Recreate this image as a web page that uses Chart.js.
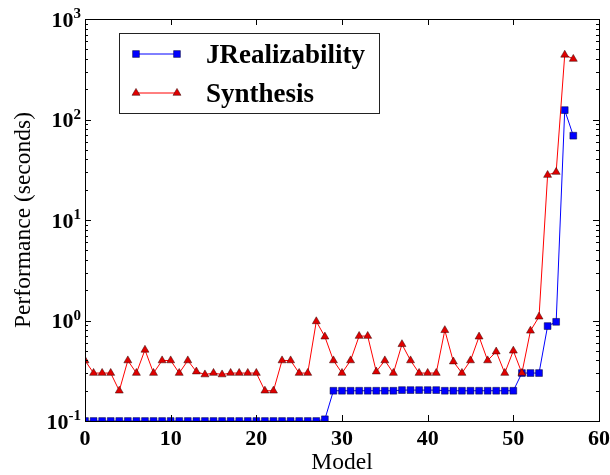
<!DOCTYPE html>
<html>
<head>
<meta charset="utf-8">
<script src="https://cdn.jsdelivr.net/npm/chart.js@4/dist/chart.umd.min.js"></script>
<style>
  html, body { margin: 0; padding: 0; background: #fff; }
  #wrap { width: 610px; height: 475px; }
</style>
</head>
<body>
<div id="wrap"><canvas id="chartCanvas"></canvas></div>
<script>
"use strict";

// runtime per model, seconds
const jrealizability = [
    0.1, 0.1, 0.1, 0.1, 0.1, 0.1, 0.1, 0.1, 0.1, 0.1,
    0.1, 0.1, 0.1, 0.1, 0.1, 0.1, 0.1, 0.1, 0.1, 0.1,
    0.1, 0.1, 0.1, 0.1, 0.1, 0.1, 0.1, 0.1, 0.104, 0.2,
    0.2, 0.2, 0.2, 0.2, 0.2, 0.2, 0.2, 0.203, 0.203, 0.203,
    0.203, 0.203, 0.2, 0.2, 0.2, 0.2, 0.2, 0.2, 0.2, 0.2,
    0.2, 0.3, 0.3, 0.3, 0.88, 0.97, 124, 69
];
const synthesis = [
    0.4, 0.3, 0.3, 0.3, 0.2, 0.4, 0.3, 0.51, 0.3, 0.4,
    0.4, 0.3, 0.4, 0.31, 0.29, 0.3, 0.29, 0.3, 0.3, 0.3,
    0.3, 0.2, 0.2, 0.4, 0.4, 0.3, 0.3, 0.98, 0.69, 0.4,
    0.3, 0.4, 0.7, 0.7, 0.31, 0.4, 0.3, 0.58, 0.4, 0.3,
    0.3, 0.3, 0.8, 0.39, 0.3, 0.4, 0.69, 0.4, 0.49, 0.3,
    0.5, 0.3, 0.79, 1.09, 28, 30, 440, 400
];
const xTicks = [0, 10, 20, 30, 40, 50, 60];
const yDecades = [0.1, 1, 10, 100, 1000];
const yExponents = ['-1', '0', '1', '2', '3'];
const minorSteps = [2, 3, 4, 5, 6, 7, 8, 9];

const SERIF = '"Liberation Serif", "Times New Roman", serif';

function toPoints(arr) {
    return arr.map(function (v, i) { return { x: i, y: v }; });
}

// frame, inward ticks on all four sides and the 10^n labels
const axisDecor = {
    id: 'axisDecor',
    afterDatasetsDraw(chart) {
        const { ctx, chartArea: a, scales: { x, y } } = chart;
        ctx.save();
        ctx.strokeStyle = '#000';
        ctx.lineWidth = 1;
        ctx.beginPath();
        xTicks.forEach(function (v) {
            const px = Math.round(x.getPixelForValue(v)) + 0.5;
            ctx.moveTo(px, a.bottom); ctx.lineTo(px, a.bottom - 6);
            ctx.moveTo(px, a.top); ctx.lineTo(px, a.top + 6);
        });
        yDecades.forEach(function (d, k) {
            const py = Math.round(y.getPixelForValue(d)) + 0.5;
            ctx.moveTo(a.left, py); ctx.lineTo(a.left + 6, py);
            ctx.moveTo(a.right, py); ctx.lineTo(a.right - 6, py);
            if (k < yDecades.length - 1) {
                minorSteps.forEach(function (m) {
                    const my = Math.round(y.getPixelForValue(d * m)) + 0.5;
                    ctx.moveTo(a.left, my); ctx.lineTo(a.left + 3, my);
                    ctx.moveTo(a.right, my); ctx.lineTo(a.right - 3, my);
                });
            }
        });
        ctx.stroke();
        ctx.strokeRect(Math.round(a.left) + 0.5, Math.round(a.top) + 0.5,
            Math.round(a.right - a.left), Math.round(a.bottom - a.top));

        // y labels: "10" plus a raised exponent, right aligned to the axis
        ctx.fillStyle = '#000';
        ctx.textBaseline = 'alphabetic';
        ctx.textAlign = 'right';
        yDecades.forEach(function (d, k) {
            const py = y.getPixelForValue(d);
            const right = a.left - 4;
            ctx.font = 'bold 15px ' + SERIF;
            const ew = ctx.measureText(yExponents[k]).width;
            ctx.fillText(yExponents[k], right, py - 1);
            ctx.font = 'bold 22px ' + SERIF;
            ctx.fillText('10', right - ew, py + 7.5);
        });
        ctx.restore();
    }
};

// boxed legend with a short line and a marker at each end
const lineLegend = {
    id: 'lineLegend',
    afterDraw(chart) {
        const { ctx } = chart;
        const box = { x: 119.5, y: 33.5, w: 260, h: 80 };
        ctx.save();
        ctx.fillStyle = '#fff';
        ctx.strokeStyle = '#222';
        ctx.lineWidth = 1;
        ctx.fillRect(box.x, box.y, box.w, box.h);
        ctx.strokeRect(box.x, box.y, box.w, box.h);
        chart.data.datasets.forEach(function (ds, i) {
            const ly = 54 + i * 39;
            ctx.strokeStyle = ds.borderColor;
            ctx.lineWidth = ds.borderWidth;
            ctx.beginPath();
            ctx.moveTo(136, ly); ctx.lineTo(177, ly);
            ctx.stroke();
            [136, 177].forEach(function (mx) {
                ctx.fillStyle = ds.pointBackgroundColor;
                ctx.strokeStyle = ds.pointBorderColor;
                ctx.lineWidth = ds.pointBorderWidth;
                Chart.helpers.drawPoint(ctx, {
                    pointStyle: ds.pointStyle, radius: ds.pointRadius,
                    rotation: 0, borderWidth: ds.pointBorderWidth
                }, mx, ly);
            });
            ctx.fillStyle = '#000';
            ctx.font = 'bold 27px ' + SERIF;
            ctx.textAlign = 'left';
            ctx.textBaseline = 'alphabetic';
            ctx.fillText(ds.label, 206, ly + 9);
        });
        ctx.restore();
    }
};

const ctx = document.getElementById('chartCanvas');

const data = {
    datasets: [{
        label: 'JRealizability',
        data: toPoints(jrealizability),
        borderColor: '#0000ff',
        borderWidth: 1,
        pointStyle: 'rect',
        pointRadius: 4.8,
        pointBackgroundColor: '#0000ff',
        pointBorderColor: '#000033',
        pointBorderWidth: 0.5,
        clip: 0,
        order: 1
    }, {
        label: 'Synthesis',
        data: toPoints(synthesis),
        borderColor: '#ff0000',
        borderWidth: 1,
        pointStyle: 'triangle',
        pointRadius: 4.6,
        pointBackgroundColor: '#e00000',
        pointBorderColor: '#330000',
        pointBorderWidth: 0.5,
        clip: 0,
        order: 0
    }]
};

const config = {
    type: 'line',
    data: data,
    options: {
        responsive: true,
        maintainAspectRatio: false,
        animation: false,
        layout: { padding: { top: 19, right: 11, left: 0, bottom: 0 } },
        plugins: {
            legend: { display: false },
            tooltip: { enabled: false }
        },
        scales: {
            x: {
                type: 'linear',
                min: 0,
                max: 60,
                grid: { display: false, drawTicks: false },
                border: { display: false },
                afterBuildTicks: function (scale) {
                    scale.ticks = xTicks.map(function (v) { return { value: v }; });
                },
                afterFit: function (scale) {
                    scale.height = 54;
                    scale.paddingLeft = 0;
                    scale.paddingRight = 0;
                },
                ticks: {
                    color: '#000',
                    padding: 5,
                    maxRotation: 0,
                    font: { family: SERIF, size: 22, weight: 'bold' }
                },
                title: {
                    display: true,
                    text: 'Model',
                    color: '#000',
                    padding: { top: 0, bottom: -2 },
                    font: { family: SERIF, size: 23.5 }
                }
            },
            y: {
                type: 'logarithmic',
                min: 0.1,
                max: 1000,
                grid: { display: false, drawTicks: false },
                border: { display: false },
                afterFit: function (scale) { scale.width = 85; },
                ticks: { display: false },
                title: {
                    display: true,
                    text: 'Performance (seconds)',
                    color: '#000',
                    padding: { top: 10, bottom: 0 },
                    font: { family: SERIF, size: 23.5 }
                }
            }
        }
    },
    plugins: [axisDecor, lineLegend]
};

new Chart(ctx, config);
</script>
</body>
</html>
